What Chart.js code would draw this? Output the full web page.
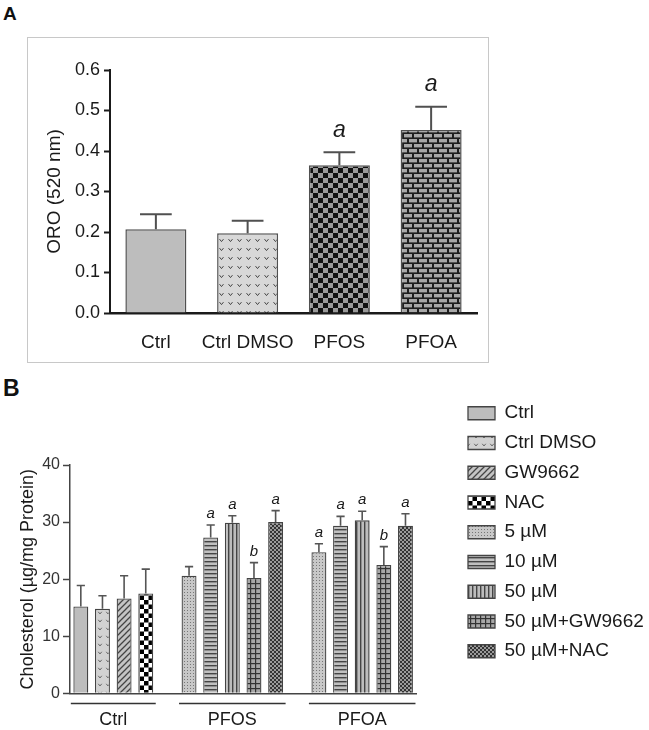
<!DOCTYPE html>
<html>
<head>
<meta charset="utf-8">
<script src="https://cdn.jsdelivr.net/npm/chart.js@4.4.1/dist/chart.umd.min.js"></script>
<style>
  body { margin: 0; background: #fff; width: 649px; height: 730px; position: relative; overflow: hidden; font-family: "Liberation Sans", Arial, sans-serif; }
  .tag { position: absolute; font-weight: bold; color: #111; line-height: 1; }
  #boxA { position: absolute; left: 27px; top: 37px; width: 460px; height: 324px; border: 1px solid #c8c8c8; }
  #wrapB { position: absolute; left: 0; top: 393px; width: 649px; height: 337px; }
</style>
</head>
<body>
<div class="tag" style="left:3px;top:4px;font-size:19px">A</div>
<div class="tag" style="left:3px;top:377px;font-size:23px">B</div>
<div id="boxA"><canvas id="chartA"></canvas></div>
<div id="wrapB"><canvas id="chartB"></canvas></div>
<script>
// panel A - Oil Red O
const catsA = ['Ctrl', 'Ctrl DMSO', 'PFOS', 'PFOA'];
const oroMean = [0.207, 0.197, 0.365, 0.452];
const oroSem = [0.037, 0.031, 0.032, 0.057];
const sigA = ['', '', 'a', 'a'];

// panel B - cholesterol
const groupsB = ['Ctrl', 'PFOS', 'PFOA'];
const ctrlLabels = ['Ctrl', 'Ctrl DMSO', 'GW9662', 'NAC'];
const doseLabels = ['5 µM', '10 µM', '50 µM', '50 µM+GW9662', '50 µM+NAC'];
const ctrlMean = [15.2, 14.8, 16.6, 17.5];
const ctrlSem = [3.7, 2.3, 4.0, 4.25];
const pfosMean = [20.6, 27.3, 29.9, 20.2, 30.0];
const pfosSem = [1.6, 2.2, 1.2, 2.7, 2.0];
const pfoaMean = [24.7, 29.35, 30.3, 22.5, 29.35];
const pfoaSem = [1.5, 1.65, 1.6, 3.2, 2.1];
const pfosSig = ['', 'a', 'a', 'b', 'a'];
const pfoaSig = ['a', 'a', 'a', 'b', 'a'];

Chart.defaults.font.family = '"Liberation Sans", Arial, sans-serif';
Chart.defaults.color = '#1a1a1a';

function tile(w, h, draw) {
    const c = document.createElement('canvas');
    c.width = w;
    c.height = h;
    const g = c.getContext('2d');
    draw(g, w, h);
    return g.createPattern(c, 'repeat');
}

function vMarks(bg, fg, size) {
    return tile(size, size, (g, w, h) => {
        g.fillStyle = bg;
        g.fillRect(0, 0, w, h);
        g.strokeStyle = fg;
        g.lineWidth = 1;
        g.beginPath();
        g.moveTo(w * 0.28, h * 0.35);
        g.lineTo(w * 0.5, h * 0.62);
        g.lineTo(w * 0.72, h * 0.35);
        g.stroke();
    });
}

function checker(a, b, s) {
    return tile(s * 2, s * 2, (g) => {
        g.fillStyle = b;
        g.fillRect(0, 0, s * 2, s * 2);
        g.fillStyle = a;
        g.fillRect(0, 0, s, s);
        g.fillRect(s, s, s, s);
    });
}

const patA = [
    '#bdbdbd',
    vMarks('#d8d8d8', '#444', 9),
    checker('#111', '#9a9a9a', 5),
    tile(10, 10, (g) => {
        g.fillStyle = '#1e1e1e';
        g.fillRect(0, 0, 10, 10);
        g.fillStyle = '#a8a8a8';
        g.fillRect(1, 1, 8, 3.4);
        g.fillRect(0, 6, 4, 3.4);
        g.fillRect(6, 6, 4, 3.4);
    })
];

const patB = [
    '#bdbdbd',
    vMarks('#d2d2d2', '#666', 8),
    tile(6, 6, (g) => {
        g.fillStyle = '#c4c4c4';
        g.fillRect(0, 0, 6, 6);
        g.strokeStyle = '#444';
        g.lineWidth = 1.3;
        g.beginPath();
        g.moveTo(-1, 7); g.lineTo(7, -1);
        g.moveTo(-4, 4); g.lineTo(4, -4);
        g.moveTo(2, 10); g.lineTo(10, 2);
        g.stroke();
    }),
    checker('#000', '#fff', 4.5),
    tile(3, 3, (g) => {
        g.fillStyle = '#c8c8c8';
        g.fillRect(0, 0, 3, 3);
        g.fillStyle = '#777';
        g.fillRect(1, 1, 1, 1);
    }),
    tile(1, 4, (g) => {
        g.fillStyle = '#c0c0c0';
        g.fillRect(0, 0, 1, 4);
        g.fillStyle = '#444';
        g.fillRect(0, 0, 1, 1.4);
    }),
    tile(4, 1, (g) => {
        g.fillStyle = '#bdbdbd';
        g.fillRect(0, 0, 4, 1);
        g.fillStyle = '#444';
        g.fillRect(0, 0, 1.4, 1);
    }),
    tile(5, 5, (g) => {
        g.fillStyle = '#a8a8a8';
        g.fillRect(0, 0, 5, 5);
        g.fillStyle = '#333';
        g.fillRect(0, 0, 5, 1.2);
        g.fillRect(0, 0, 1.2, 5);
    }),
    checker('#333', '#9a9a9a', 2)
];

// error bars (upper half only) and significance letters
const errorBars = {
    id: 'errorBars',
    afterDatasetsDraw(chart, args, opts) {
        const ctx = chart.ctx;
        const y = chart.scales.y;
        chart.data.datasets.forEach((ds, di) => {
            const meta = chart.getDatasetMeta(di);
            meta.data.forEach((bar, i) => {
                const v = meta.controller.getParsed(i).y;
                const top = y.getPixelForValue(v + ds.sem[i]);
                const cap = bar.width * opts.cap / 2;
                ctx.save();
                ctx.strokeStyle = opts.color;
                ctx.lineWidth = opts.width;
                ctx.beginPath();
                ctx.moveTo(bar.x, bar.y);
                ctx.lineTo(bar.x, top);
                ctx.moveTo(bar.x - cap, top);
                ctx.lineTo(bar.x + cap, top);
                ctx.stroke();
                if (ds.sig[i]) {
                    ctx.fillStyle = '#1a1a1a';
                    ctx.font = opts.font;
                    ctx.textAlign = 'center';
                    ctx.textBaseline = 'alphabetic';
                    ctx.fillText(ds.sig[i], bar.x, top - opts.gap);
                }
                ctx.restore();
            });
        });
    }
};

new Chart(document.getElementById('chartA'), {
    type: 'bar',
    data: {
        labels: catsA,
        datasets: [{
            data: oroMean,
            sem: oroSem,
            sig: sigA,
            backgroundColor: patA,
            borderColor: '#505050',
            borderWidth: 1.5,
            barPercentage: 0.665,
            categoryPercentage: 1
        }]
    },
    options: {
        responsive: true,
        maintainAspectRatio: false,
        animation: false,
        layout: { padding: { top: 32, right: 11, left: 0, bottom: 0 } },
        plugins: {
            legend: { display: false },
            tooltip: { enabled: false },
            errorBars: { color: '#505050', width: 2, cap: 0.52, font: 'italic 23px "Liberation Sans", Arial, sans-serif', gap: 15.5 }
        },
        scales: {
            x: {
                grid: { display: false },
                border: { color: '#1a1a1a', width: 2.5 },
                ticks: { font: { size: 19 }, padding: 10.5, autoSkip: false, maxRotation: 0, minRotation: 0 },
                afterFit: (s) => { s.height = 49; }
            },
            y: {
                min: 0,
                max: 0.6,
                ticks: { stepSize: 0.1, font: { size: 18 }, padding: 4, callback: (v) => v.toFixed(1) },
                grid: { drawOnChartArea: false, tickLength: 6, tickColor: '#1a1a1a', tickWidth: 2 },
                border: { color: '#1a1a1a', width: 2 },
                title: { display: true, text: 'ORO (520 nm)', font: { size: 19 }, padding: { top: 15.6, bottom: 0 } },
                afterFit: (s) => { s.width = 82; }
            }
        }
    },
    plugins: [errorBars]
});

// one empty slot between groups on the category axis
const groupSizes = [ctrlLabels.length, doseLabels.length, doseLabels.length];
const groupStart = [];
let slotCount = 0;
groupSizes.forEach((n, i) => {
    groupStart.push(slotCount);
    slotCount += n + (i < groupSizes.length - 1 ? 1 : 0);
});
const slotLabels = [];
for (let i = 0; i < slotCount; i++) slotLabels.push('s' + i);

const datasetsB = [];
ctrlLabels.forEach((name, i) => {
    datasetsB.push({
        label: name,
        data: [{ x: slotLabels[groupStart[0] + i], y: ctrlMean[i] }],
        sem: [ctrlSem[i]],
        sig: [''],
        backgroundColor: patB[i]
    });
});
doseLabels.forEach((name, j) => {
    datasetsB.push({
        label: name,
        data: [
            { x: slotLabels[groupStart[1] + j], y: pfosMean[j] },
            { x: slotLabels[groupStart[2] + j], y: pfoaMean[j] }
        ],
        sem: [pfosSem[j], pfoaSem[j]],
        sig: [pfosSig[j], pfoaSig[j]],
        backgroundColor: patB[ctrlLabels.length + j]
    });
});
datasetsB.forEach((ds) => {
    ds.borderColor = '#444';
    ds.borderWidth = 1.3;
    ds.grouped = false;
    ds.barPercentage = 0.69;
    ds.categoryPercentage = 1;
});

const groupAxis = {
    id: 'groupAxis',
    afterDraw(chart) {
        const ctx = chart.ctx;
        const x = chart.scales.x;
        ctx.save();
        ctx.strokeStyle = '#333';
        ctx.lineWidth = 1.5;
        ctx.fillStyle = '#1a1a1a';
        ctx.font = '18px "Liberation Sans", Arial, sans-serif';
        ctx.textAlign = 'center';
        ctx.textBaseline = 'middle';
        groupsB.forEach((name, g) => {
            const a = x.getPixelForValue(groupStart[g]) - 10;
            const b = x.getPixelForValue(groupStart[g] + groupSizes[g] - 1) + 10;
            const ly = x.bottom - 26.5;
            ctx.beginPath();
            ctx.moveTo(a, ly);
            ctx.lineTo(b, ly);
            ctx.stroke();
            ctx.fillText(name, (a + b) / 2, ly + 17);
        });
        ctx.restore();
    }
};

const chartB = new Chart(document.getElementById('chartB'), {
    type: 'bar',
    data: { labels: slotLabels, datasets: datasetsB },
    options: {
        responsive: true,
        maintainAspectRatio: false,
        animation: false,
        layout: { padding: { top: 0, right: 0, left: 0, bottom: 0 } },
        plugins: {
            tooltip: { enabled: false },
            title: { display: true, text: '', fullSize: false, font: { size: 10, lineHeight: 1 }, padding: { top: 0, bottom: 62 } },
            legend: {
                position: 'right',
                align: 'start',
                maxWidth: 400,
                labels: { boxWidth: 27, boxHeight: 13, padding: 10.75, font: { size: 19 } }
            },
            errorBars: { color: '#555', width: 1.6, cap: 0.55, font: 'italic 15px "Liberation Sans", Arial, sans-serif', gap: 7 }
        },
        scales: {
            x: {
                offset: true,
                grid: { display: false },
                ticks: { display: false },
                border: { color: '#444', width: 1.5 },
                afterFit: (s) => { s.height = 36.7; }
            },
            y: {
                min: 0,
                max: 40,
                ticks: { stepSize: 10, font: { size: 16 }, color: '#333', padding: 3 },
                grid: { drawOnChartArea: false, tickLength: 7, tickColor: '#444', tickWidth: 1.5 },
                border: { color: '#444', width: 1.5 },
                title: { display: true, text: 'Cholesterol (µg/mg Protein)', font: { size: 18 }, padding: { top: 17.2, bottom: 0 } },
                afterFit: (s) => { s.width = 70; }
            },
            spacer: {
                type: 'linear',
                position: 'right',
                grid: { display: false },
                ticks: { display: false },
                border: { display: false },
                afterFit: (s) => { s.width = 40.95; }
            }
        }
    },
    plugins: [errorBars, groupAxis]
});

// pin the legend's left edge: right padding takes up (or gives back) what the legend does not use;
// the legend's own trailing margin may run past the edge, its text still fits
chartB.options.layout.padding.right = 649 - 457.25 - chartB.legend.width;
chartB.update();
</script>
</body>
</html>
